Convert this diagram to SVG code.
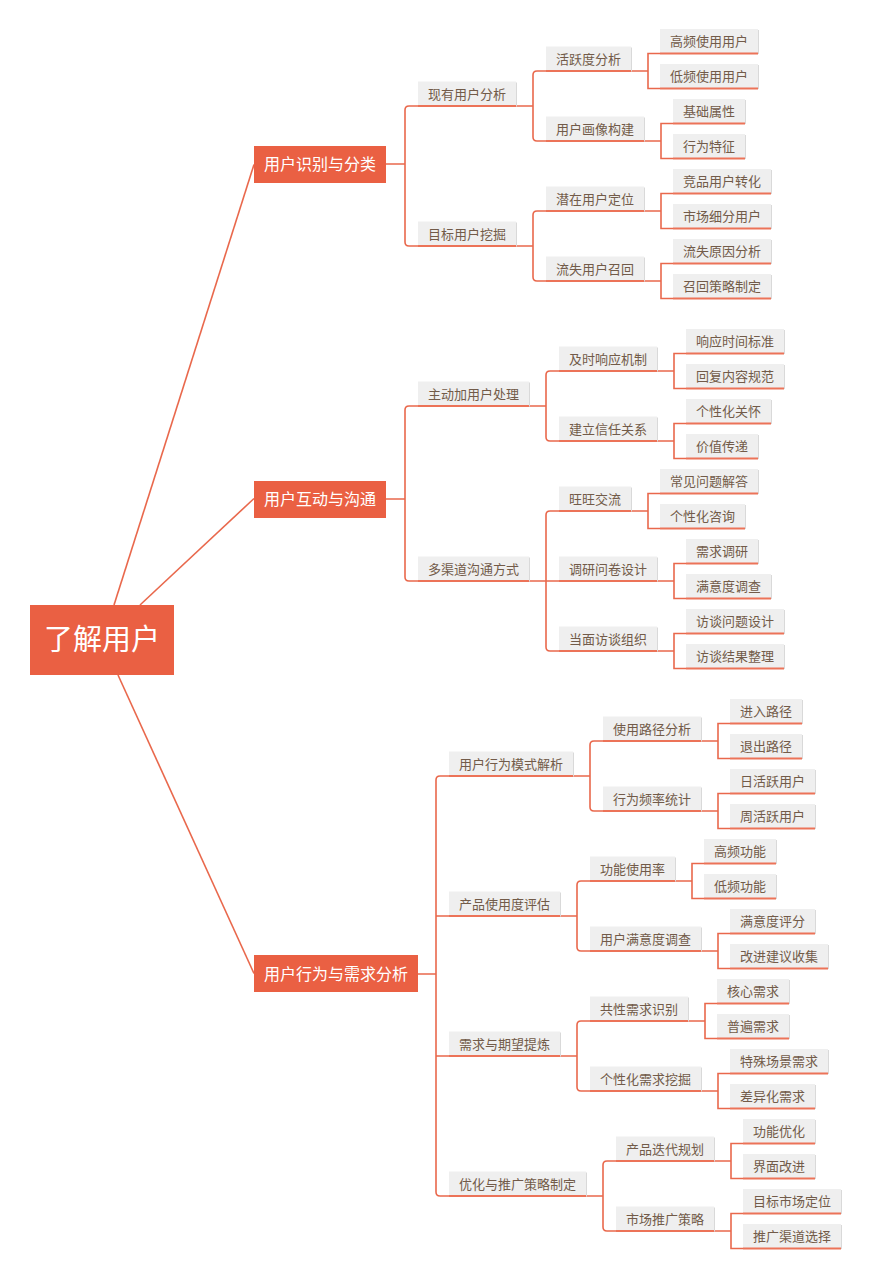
<svg xmlns="http://www.w3.org/2000/svg" width="871" height="1280" viewBox="0 0 871 1280">
<style>
.bg{fill:#ffffff}
.root rect{fill:#ea6043}
.root text{fill:#ffffff;font-family:"Noto Sans CJK SC","Liberation Sans",sans-serif;font-size:29px;text-anchor:middle}
.l1 rect{fill:#ea6043}
.l1 text{fill:#ffffff;font-family:"Noto Sans CJK SC","Liberation Sans",sans-serif;font-size:16px;text-anchor:middle}
.n .sh{fill:#d9d9d9}
.n .bx{fill:#efefef}
.n line{stroke:#ec7358;stroke-width:2}
.n text{fill:#725b49;font-family:"Noto Sans CJK SC","Liberation Sans",sans-serif;font-size:13px;text-anchor:middle}
.c path{fill:none;stroke:#e9684c;stroke-width:1.6}
</style>
<rect class="bg" x="0" y="0" width="871" height="1280"/>
<g id="connectors" class="c">
<path d="M114 605 L254 164.5"/>
<path d="M140 605 L254 498.5"/>
<path d="M118 675 L254 973.5"/>
<path d="M386 164 H405 M418 106 H409 Q405 106 405 110 V242 Q405 246 409 246 H418"/>
<path d="M516 106 H533 M546 71 H537 Q533 71 533 75 V137 Q533 141 537 141 H546"/>
<path d="M631 71 H648 M660 53.5 H648 V88.5 H660"/>
<path d="M644 141 H661 M673 123.5 H661 V158.5 H673"/>
<path d="M516 246 H533 M546 211 H537 Q533 211 533 215 V277 Q533 281 537 281 H546"/>
<path d="M644 211 H661 M673 193.5 H661 V228.5 H673"/>
<path d="M644 281 H661 M673 263.5 H661 V298.5 H673"/>
<path d="M386 499 H405 M418 406 H409 Q405 406 405 410 V577 Q405 581 409 581 H418"/>
<path d="M529 406 H546 M559 371 H550 Q546 371 546 375 V437 Q546 441 550 441 H559"/>
<path d="M657 371 H674 M686 353.5 H674 V388.5 H686"/>
<path d="M657 441 H674 M686 423.5 H674 V458.5 H686"/>
<path d="M529 581 H559 M559 511 H550 Q546 511 546 515 V647 Q546 651 550 651 H559"/>
<path d="M631 511 H648 M660 493.5 H648 V528.5 H660"/>
<path d="M657 581 H674 M686 563.5 H674 V598.5 H686"/>
<path d="M657 651 H674 M686 633.5 H674 V668.5 H686"/>
<path d="M418 974 H436 M449 776 H440 Q436 776 436 780 V1192 Q436 1196 440 1196 H449 M436 916 H449 M436 1056 H449"/>
<path d="M573 776 H590 M603 741 H594 Q590 741 590 745 V807 Q590 811 594 811 H603"/>
<path d="M701 741 H718 M730 723.5 H718 V758.5 H730"/>
<path d="M701 811 H718 M730 793.5 H718 V828.5 H730"/>
<path d="M560 916 H577 M590 881 H581 Q577 881 577 885 V947 Q577 951 581 951 H590"/>
<path d="M675 881 H692 M704 863.5 H692 V898.5 H704"/>
<path d="M701 951 H718 M730 933.5 H718 V968.5 H730"/>
<path d="M560 1056 H577 M590 1021 H581 Q577 1021 577 1025 V1087 Q577 1091 581 1091 H590"/>
<path d="M688 1021 H705 M717 1003.5 H705 V1038.5 H717"/>
<path d="M701 1091 H718 M730 1073.5 H718 V1108.5 H730"/>
<path d="M586 1196 H603 M616 1161 H607 Q603 1161 603 1165 V1227 Q603 1231 607 1231 H616"/>
<path d="M714 1161 H731 M743 1143.5 H731 V1178.5 H743"/>
<path d="M714 1231 H731 M743 1213.5 H731 V1248.5 H743"/>
</g>
<g id="root" class="root"><rect x="30" y="605" width="144" height="70"/><text x="102" y="650">了解用户</text></g>
<g id="l1-a" class="l1"><rect x="254" y="146" width="132" height="37"/><text x="320" y="170">用户识别与分类</text></g>
<g id="l1-b" class="l1"><rect x="254" y="481" width="132" height="37"/><text x="320" y="505">用户互动与沟通</text></g>
<g id="l1-c" class="l1"><rect x="254" y="955" width="164" height="37"/><text x="336" y="979.5">用户行为与需求分析</text></g>

<g id="n-xyyhfx" class="n"><rect class="sh" x="419" y="82.5" width="98" height="24"/><rect class="bx" x="418" y="81.5" width="98" height="24"/><line x1="418" y1="106" x2="516" y2="106"/><text x="467" y="98.5">现有用户分析</text></g>
<g id="n-mbyhwj" class="n"><rect class="sh" x="419" y="222.5" width="98" height="24"/><rect class="bx" x="418" y="221.5" width="98" height="24"/><line x1="418" y1="246" x2="516" y2="246"/><text x="467" y="238.5">目标用户挖掘</text></g>
<g id="n-hydfx" class="n"><rect class="sh" x="547" y="47.5" width="85" height="24"/><rect class="bx" x="546" y="46.5" width="85" height="24"/><line x1="546" y1="71" x2="631" y2="71"/><text x="588.5" y="63.5">活跃度分析</text></g>
<g id="n-yhhxgj" class="n"><rect class="sh" x="547" y="117.5" width="98" height="24"/><rect class="bx" x="546" y="116.5" width="98" height="24"/><line x1="546" y1="141" x2="644" y2="141"/><text x="595" y="133.5">用户画像构建</text></g>
<g id="n-qzyhdw" class="n"><rect class="sh" x="547" y="187.5" width="98" height="24"/><rect class="bx" x="546" y="186.5" width="98" height="24"/><line x1="546" y1="211" x2="644" y2="211"/><text x="595" y="203.5">潜在用户定位</text></g>
<g id="n-lsyhzh" class="n"><rect class="sh" x="547" y="257.5" width="98" height="24"/><rect class="bx" x="546" y="256.5" width="98" height="24"/><line x1="546" y1="281" x2="644" y2="281"/><text x="595" y="273.5">流失用户召回</text></g>
<g id="n-gpsyyh" class="n"><rect class="sh" x="661" y="30" width="98" height="24"/><rect class="bx" x="660" y="29" width="98" height="24"/><line x1="660" y1="53.5" x2="758" y2="53.5"/><text x="709" y="46">高频使用用户</text></g>
<g id="n-dpsyyh" class="n"><rect class="sh" x="661" y="65" width="98" height="24"/><rect class="bx" x="660" y="64" width="98" height="24"/><line x1="660" y1="88.5" x2="758" y2="88.5"/><text x="709" y="81">低频使用用户</text></g>
<g id="n-jcsx" class="n"><rect class="sh" x="674" y="100" width="72" height="24"/><rect class="bx" x="673" y="99" width="72" height="24"/><line x1="673" y1="123.5" x2="745" y2="123.5"/><text x="709" y="116">基础属性</text></g>
<g id="n-xwtz" class="n"><rect class="sh" x="674" y="135" width="72" height="24"/><rect class="bx" x="673" y="134" width="72" height="24"/><line x1="673" y1="158.5" x2="745" y2="158.5"/><text x="709" y="151">行为特征</text></g>
<g id="n-jpyhzh" class="n"><rect class="sh" x="674" y="170" width="98" height="24"/><rect class="bx" x="673" y="169" width="98" height="24"/><line x1="673" y1="193.5" x2="771" y2="193.5"/><text x="722" y="186">竞品用户转化</text></g>
<g id="n-scxfyh" class="n"><rect class="sh" x="674" y="205" width="98" height="24"/><rect class="bx" x="673" y="204" width="98" height="24"/><line x1="673" y1="228.5" x2="771" y2="228.5"/><text x="722" y="221">市场细分用户</text></g>
<g id="n-lsyyfx" class="n"><rect class="sh" x="674" y="240" width="98" height="24"/><rect class="bx" x="673" y="239" width="98" height="24"/><line x1="673" y1="263.5" x2="771" y2="263.5"/><text x="722" y="256">流失原因分析</text></g>
<g id="n-zhclzd" class="n"><rect class="sh" x="674" y="275" width="98" height="24"/><rect class="bx" x="673" y="274" width="98" height="24"/><line x1="673" y1="298.5" x2="771" y2="298.5"/><text x="722" y="291">召回策略制定</text></g>

<g id="n-zdjyhcl" class="n"><rect class="sh" x="419" y="382.5" width="111" height="24"/><rect class="bx" x="418" y="381.5" width="111" height="24"/><line x1="418" y1="406" x2="529" y2="406"/><text x="473.5" y="398.5">主动加用户处理</text></g>
<g id="n-dqdgtfs" class="n"><rect class="sh" x="419" y="557.5" width="111" height="24"/><rect class="bx" x="418" y="556.5" width="111" height="24"/><line x1="418" y1="581" x2="529" y2="581"/><text x="473.5" y="573.5">多渠道沟通方式</text></g>
<g id="n-jsxyjz" class="n"><rect class="sh" x="560" y="347.5" width="98" height="24"/><rect class="bx" x="559" y="346.5" width="98" height="24"/><line x1="559" y1="371" x2="657" y2="371"/><text x="608" y="363.5">及时响应机制</text></g>
<g id="n-jlxrgx" class="n"><rect class="sh" x="560" y="417.5" width="98" height="24"/><rect class="bx" x="559" y="416.5" width="98" height="24"/><line x1="559" y1="441" x2="657" y2="441"/><text x="608" y="433.5">建立信任关系</text></g>
<g id="n-wwjl" class="n"><rect class="sh" x="560" y="487.5" width="72" height="24"/><rect class="bx" x="559" y="486.5" width="72" height="24"/><line x1="559" y1="511" x2="631" y2="511"/><text x="595" y="503.5">旺旺交流</text></g>
<g id="n-dywjsj" class="n"><rect class="sh" x="560" y="557.5" width="98" height="24"/><rect class="bx" x="559" y="556.5" width="98" height="24"/><line x1="559" y1="581" x2="657" y2="581"/><text x="608" y="573.5">调研问卷设计</text></g>
<g id="n-dmftzz" class="n"><rect class="sh" x="560" y="627.5" width="98" height="24"/><rect class="bx" x="559" y="626.5" width="98" height="24"/><line x1="559" y1="651" x2="657" y2="651"/><text x="608" y="643.5">当面访谈组织</text></g>
<g id="n-xysjbz" class="n"><rect class="sh" x="687" y="330" width="98" height="24"/><rect class="bx" x="686" y="329" width="98" height="24"/><line x1="686" y1="353.5" x2="784" y2="353.5"/><text x="735" y="346">响应时间标准</text></g>
<g id="n-hfnrgf" class="n"><rect class="sh" x="687" y="365" width="98" height="24"/><rect class="bx" x="686" y="364" width="98" height="24"/><line x1="686" y1="388.5" x2="784" y2="388.5"/><text x="735" y="381">回复内容规范</text></g>
<g id="n-gxhgh" class="n"><rect class="sh" x="687" y="400" width="85" height="24"/><rect class="bx" x="686" y="399" width="85" height="24"/><line x1="686" y1="423.5" x2="771" y2="423.5"/><text x="728.5" y="416">个性化关怀</text></g>
<g id="n-jzcd" class="n"><rect class="sh" x="687" y="435" width="72" height="24"/><rect class="bx" x="686" y="434" width="72" height="24"/><line x1="686" y1="458.5" x2="758" y2="458.5"/><text x="722" y="451">价值传递</text></g>
<g id="n-cjwtjd" class="n"><rect class="sh" x="661" y="470" width="98" height="24"/><rect class="bx" x="660" y="469" width="98" height="24"/><line x1="660" y1="493.5" x2="758" y2="493.5"/><text x="709" y="486">常见问题解答</text></g>
<g id="n-gxhzx" class="n"><rect class="sh" x="661" y="505" width="85" height="24"/><rect class="bx" x="660" y="504" width="85" height="24"/><line x1="660" y1="528.5" x2="745" y2="528.5"/><text x="702.5" y="521">个性化咨询</text></g>
<g id="n-xqdy" class="n"><rect class="sh" x="687" y="540" width="72" height="24"/><rect class="bx" x="686" y="539" width="72" height="24"/><line x1="686" y1="563.5" x2="758" y2="563.5"/><text x="722" y="556">需求调研</text></g>
<g id="n-mydcd" class="n"><rect class="sh" x="687" y="575" width="85" height="24"/><rect class="bx" x="686" y="574" width="85" height="24"/><line x1="686" y1="598.5" x2="771" y2="598.5"/><text x="728.5" y="591">满意度调查</text></g>
<g id="n-ftwtsj" class="n"><rect class="sh" x="687" y="610" width="98" height="24"/><rect class="bx" x="686" y="609" width="98" height="24"/><line x1="686" y1="633.5" x2="784" y2="633.5"/><text x="735" y="626">访谈问题设计</text></g>
<g id="n-ftjgzl" class="n"><rect class="sh" x="687" y="645" width="98" height="24"/><rect class="bx" x="686" y="644" width="98" height="24"/><line x1="686" y1="668.5" x2="784" y2="668.5"/><text x="735" y="661">访谈结果整理</text></g>

<g id="n-yhxwmsjx" class="n"><rect class="sh" x="450" y="752.5" width="124" height="24"/><rect class="bx" x="449" y="751.5" width="124" height="24"/><line x1="449" y1="776" x2="573" y2="776"/><text x="511" y="768.5">用户行为模式解析</text></g>
<g id="n-cpsydpg" class="n"><rect class="sh" x="450" y="892.5" width="111" height="24"/><rect class="bx" x="449" y="891.5" width="111" height="24"/><line x1="449" y1="916" x2="560" y2="916"/><text x="504.5" y="908.5">产品使用度评估</text></g>
<g id="n-xqyqwtl" class="n"><rect class="sh" x="450" y="1032.5" width="111" height="24"/><rect class="bx" x="449" y="1031.5" width="111" height="24"/><line x1="449" y1="1056" x2="560" y2="1056"/><text x="504.5" y="1048.5">需求与期望提炼</text></g>
<g id="n-yhytgclzd" class="n"><rect class="sh" x="450" y="1172.5" width="137" height="24"/><rect class="bx" x="449" y="1171.5" width="137" height="24"/><line x1="449" y1="1196" x2="586" y2="1196"/><text x="517.5" y="1188.5">优化与推广策略制定</text></g>
<g id="n-syljfx" class="n"><rect class="sh" x="604" y="717.5" width="98" height="24"/><rect class="bx" x="603" y="716.5" width="98" height="24"/><line x1="603" y1="741" x2="701" y2="741"/><text x="652" y="733.5">使用路径分析</text></g>
<g id="n-xwplt" class="n"><rect class="sh" x="604" y="787.5" width="98" height="24"/><rect class="bx" x="603" y="786.5" width="98" height="24"/><line x1="603" y1="811" x2="701" y2="811"/><text x="652" y="803.5">行为频率统计</text></g>
<g id="n-gnsyl" class="n"><rect class="sh" x="591" y="857.5" width="85" height="24"/><rect class="bx" x="590" y="856.5" width="85" height="24"/><line x1="590" y1="881" x2="675" y2="881"/><text x="632.5" y="873.5">功能使用率</text></g>
<g id="n-yhmyddc" class="n"><rect class="sh" x="591" y="927.5" width="111" height="24"/><rect class="bx" x="590" y="926.5" width="111" height="24"/><line x1="590" y1="951" x2="701" y2="951"/><text x="645.5" y="943.5">用户满意度调查</text></g>
<g id="n-gxxqsb" class="n"><rect class="sh" x="591" y="997.5" width="98" height="24"/><rect class="bx" x="590" y="996.5" width="98" height="24"/><line x1="590" y1="1021" x2="688" y2="1021"/><text x="639" y="1013.5">共性需求识别</text></g>
<g id="n-gxhxqwj" class="n"><rect class="sh" x="591" y="1067.5" width="111" height="24"/><rect class="bx" x="590" y="1066.5" width="111" height="24"/><line x1="590" y1="1091" x2="701" y2="1091"/><text x="645.5" y="1083.5">个性化需求挖掘</text></g>
<g id="n-cpddgh" class="n"><rect class="sh" x="617" y="1137.5" width="98" height="24"/><rect class="bx" x="616" y="1136.5" width="98" height="24"/><line x1="616" y1="1161" x2="714" y2="1161"/><text x="665" y="1153.5">产品迭代规划</text></g>
<g id="n-sctgcl" class="n"><rect class="sh" x="617" y="1207.5" width="98" height="24"/><rect class="bx" x="616" y="1206.5" width="98" height="24"/><line x1="616" y1="1231" x2="714" y2="1231"/><text x="665" y="1223.5">市场推广策略</text></g>
<g id="n-jrlj" class="n"><rect class="sh" x="731" y="700" width="72" height="24"/><rect class="bx" x="730" y="699" width="72" height="24"/><line x1="730" y1="723.5" x2="802" y2="723.5"/><text x="766" y="716">进入路径</text></g>
<g id="n-tclj" class="n"><rect class="sh" x="731" y="735" width="72" height="24"/><rect class="bx" x="730" y="734" width="72" height="24"/><line x1="730" y1="758.5" x2="802" y2="758.5"/><text x="766" y="751">退出路径</text></g>
<g id="n-rhyyh" class="n"><rect class="sh" x="731" y="770" width="85" height="24"/><rect class="bx" x="730" y="769" width="85" height="24"/><line x1="730" y1="793.5" x2="815" y2="793.5"/><text x="772.5" y="786">日活跃用户</text></g>
<g id="n-zhyyh" class="n"><rect class="sh" x="731" y="805" width="85" height="24"/><rect class="bx" x="730" y="804" width="85" height="24"/><line x1="730" y1="828.5" x2="815" y2="828.5"/><text x="772.5" y="821">周活跃用户</text></g>
<g id="n-gpgn" class="n"><rect class="sh" x="705" y="840" width="72" height="24"/><rect class="bx" x="704" y="839" width="72" height="24"/><line x1="704" y1="863.5" x2="776" y2="863.5"/><text x="740" y="856">高频功能</text></g>
<g id="n-dpgn" class="n"><rect class="sh" x="705" y="875" width="72" height="24"/><rect class="bx" x="704" y="874" width="72" height="24"/><line x1="704" y1="898.5" x2="776" y2="898.5"/><text x="740" y="891">低频功能</text></g>
<g id="n-mydpf" class="n"><rect class="sh" x="731" y="910" width="85" height="24"/><rect class="bx" x="730" y="909" width="85" height="24"/><line x1="730" y1="933.5" x2="815" y2="933.5"/><text x="772.5" y="926">满意度评分</text></g>
<g id="n-gjjysj" class="n"><rect class="sh" x="731" y="945" width="98" height="24"/><rect class="bx" x="730" y="944" width="98" height="24"/><line x1="730" y1="968.5" x2="828" y2="968.5"/><text x="779" y="961">改进建议收集</text></g>
<g id="n-hxxq" class="n"><rect class="sh" x="718" y="980" width="72" height="24"/><rect class="bx" x="717" y="979" width="72" height="24"/><line x1="717" y1="1003.5" x2="789" y2="1003.5"/><text x="753" y="996">核心需求</text></g>
<g id="n-pbxq" class="n"><rect class="sh" x="718" y="1015" width="72" height="24"/><rect class="bx" x="717" y="1014" width="72" height="24"/><line x1="717" y1="1038.5" x2="789" y2="1038.5"/><text x="753" y="1031">普遍需求</text></g>
<g id="n-tscjxq" class="n"><rect class="sh" x="731" y="1050" width="98" height="24"/><rect class="bx" x="730" y="1049" width="98" height="24"/><line x1="730" y1="1073.5" x2="828" y2="1073.5"/><text x="779" y="1066">特殊场景需求</text></g>
<g id="n-cyhxq" class="n"><rect class="sh" x="731" y="1085" width="85" height="24"/><rect class="bx" x="730" y="1084" width="85" height="24"/><line x1="730" y1="1108.5" x2="815" y2="1108.5"/><text x="772.5" y="1101">差异化需求</text></g>
<g id="n-gnyh" class="n"><rect class="sh" x="744" y="1120" width="72" height="24"/><rect class="bx" x="743" y="1119" width="72" height="24"/><line x1="743" y1="1143.5" x2="815" y2="1143.5"/><text x="779" y="1136">功能优化</text></g>
<g id="n-jmgj" class="n"><rect class="sh" x="744" y="1155" width="72" height="24"/><rect class="bx" x="743" y="1154" width="72" height="24"/><line x1="743" y1="1178.5" x2="815" y2="1178.5"/><text x="779" y="1171">界面改进</text></g>
<g id="n-mbscdw" class="n"><rect class="sh" x="744" y="1190" width="98" height="24"/><rect class="bx" x="743" y="1189" width="98" height="24"/><line x1="743" y1="1213.5" x2="841" y2="1213.5"/><text x="792" y="1206">目标市场定位</text></g>
<g id="n-tgqdxz" class="n"><rect class="sh" x="744" y="1225" width="98" height="24"/><rect class="bx" x="743" y="1224" width="98" height="24"/><line x1="743" y1="1248.5" x2="841" y2="1248.5"/><text x="792" y="1241">推广渠道选择</text></g>
</svg>
